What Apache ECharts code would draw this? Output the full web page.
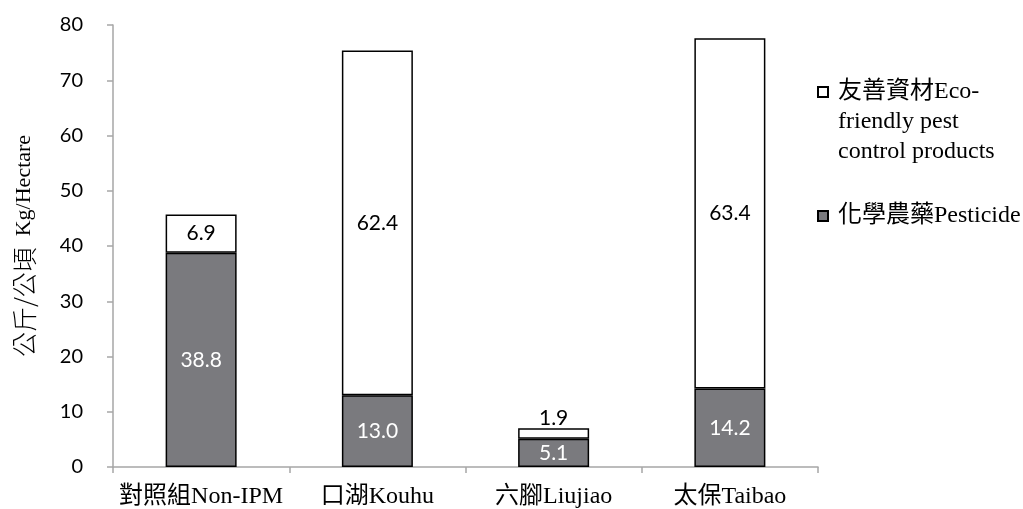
<!DOCTYPE html>
<html>
<head>
<meta charset="utf-8">
<script src="https://cdn.jsdelivr.net/npm/echarts@6/dist/echarts.min.js"></script>
<style>
  html, body { margin: 0; padding: 0; background: #fff; }
  #chart { width: 1023px; height: 509px; }
</style>
</head>
<body>
<div id="chart"></div>
<script>
// Sites compared
const categories = ['對照組Non-IPM', '口湖Kouhu', '六腳Liujiao', '太保Taibao'];
// Chemical pesticide use (kg/ha)
const pesticide = [38.8, 13.0, 5.1, 14.2];
// Eco-friendly pest control products (kg/ha)
const ecoFriendly = [6.9, 62.4, 1.9, 63.4];
// Y-axis ticks
const yTicks = { min: 0, max: 80, interval: 10 };

const ecoName = '友善資材Eco-friendly pest control products';
const pestName = '化學農藥Pesticide';

const serif = "'Liberation Serif', 'Noto Sans CJK TC', serif";
const sans = "Lato, 'Open Sans', sans-serif";
const axisGray = '#a6a6a6';

const chart = echarts.init(document.getElementById('chart'));

const legendText = { fontFamily: serif, fontSize: 24, color: '#000', lineHeight: 30, padding: [0, 0, 0, 5] };

chart.setOption({
  animation: false,
  backgroundColor: '#fff',
  grid: { left: 113, right: 205, top: 25, bottom: 42, outerBoundsMode: 'none', containLabel: false },
  legend: [
    {
      data: [ecoName],
      left: 812,
      top: 12,
      orient: 'vertical',
      icon: 'rect',
      itemWidth: 10,
      itemHeight: 10,
      selectedMode: false,
      // two blank lines keep the icon level with the first text line
      formatter: () => '\n\n友善資材Eco-\nfriendly pest\ncontrol products',
      textStyle: legendText
    },
    {
      data: [pestName],
      left: 812,
      top: 196,
      orient: 'vertical',
      icon: 'rect',
      itemWidth: 10,
      itemHeight: 10,
      selectedMode: false,
      textStyle: legendText
    }
  ],
  xAxis: {
    type: 'category',
    data: categories,
    axisLine: { lineStyle: { color: axisGray, width: 1.5 } },
    axisTick: { show: true, length: 6, lineStyle: { color: axisGray, width: 1.5 } },
    axisLabel: { interval: 0, fontFamily: serif, fontSize: 24, color: '#000', margin: 18 }
  },
  yAxis: {
    type: 'value',
    min: yTicks.min,
    max: yTicks.max,
    interval: yTicks.interval,
    name: '{cjk|公斤/公頃}{lat|  Kg/Hectare}',
    nameLocation: 'middle',
    nameGap: 74,
    nameTextStyle: {
      color: '#000',
      rich: {
        cjk: { fontFamily: "'Noto Sans CJK TC', sans-serif", fontSize: 25, fontWeight: 300, color: '#000', lineHeight: 30 },
        lat: { fontFamily: serif, fontSize: 22, color: '#000', lineHeight: 30 }
      }
    },
    axisLine: { show: true, lineStyle: { color: axisGray, width: 1.5 } },
    axisTick: { show: true, length: 6, lineStyle: { color: axisGray, width: 1.5 } },
    splitLine: { show: false },
    axisLabel: { fontFamily: sans, fontSize: 20, color: '#000', margin: 30 }
  },
  series: [
    {
      name: pestName,
      type: 'bar',
      stack: 'total',
      barWidth: 71,
      data: pesticide,
      itemStyle: { color: '#7a7a7e', borderColor: '#000', borderWidth: 1.5 },
      label: {
        show: true,
        position: 'inside',
        color: '#fff',
        fontFamily: sans,
        fontSize: 21,
        formatter: p => p.value.toFixed(1)
      }
    },
    {
      name: ecoName,
      type: 'bar',
      stack: 'total',
      barWidth: 71,
      data: ecoFriendly.map((v, i) => i === 2
        ? { value: v, label: { position: 'top', distance: 0 } }
        : v),
      itemStyle: { color: '#fff', borderColor: '#000', borderWidth: 1.5 },
      label: {
        show: true,
        position: 'inside',
        color: '#000',
        fontFamily: sans,
        fontSize: 21,
        formatter: p => p.value.toFixed(1)
      }
    }
  ]
});
</script>
</body>
</html>
